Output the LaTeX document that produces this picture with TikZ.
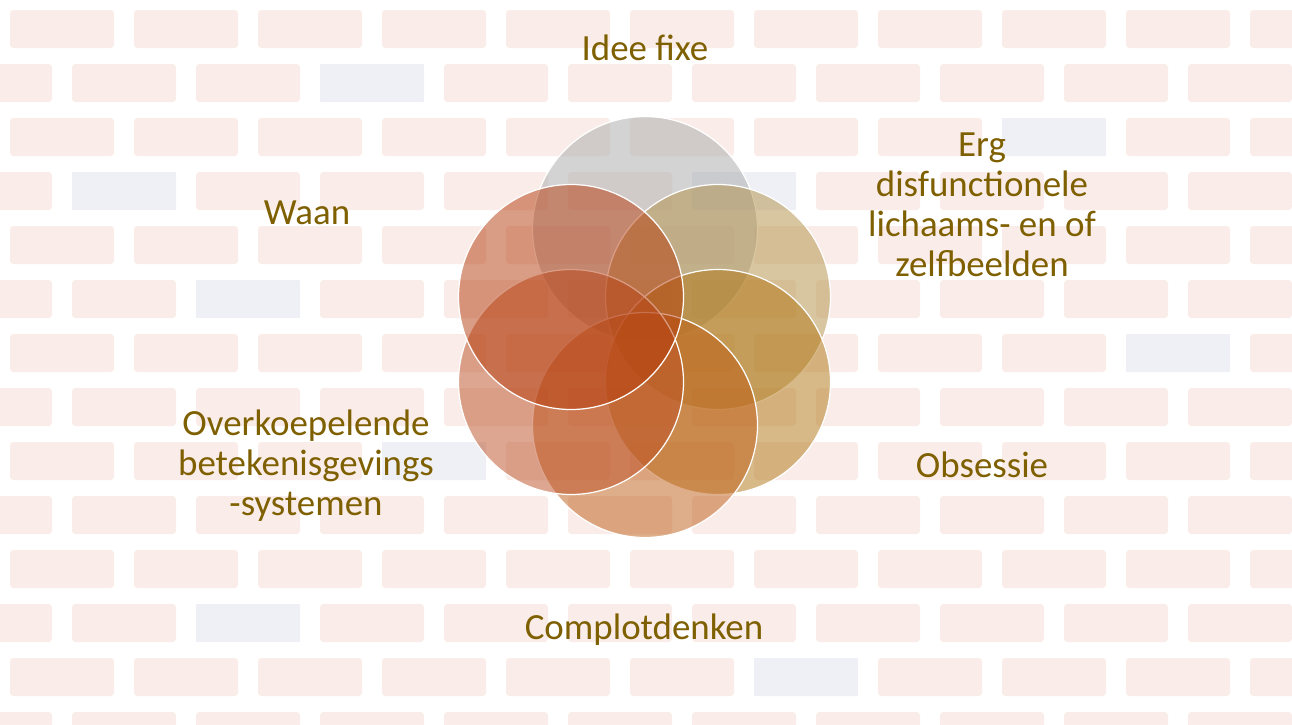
\documentclass[tikz,border=0pt]{standalone}
\usepackage{fontspec}
\setmainfont{Carlito}
\definecolor{txtgold}{HTML}{7F6000}
\definecolor{brickpink}{HTML}{F9E6E1}
\definecolor{brickblue}{HTML}{EEF0F5}
\definecolor{cgray}{HTML}{A8A8A8}
\definecolor{ctan}{HTML}{B28F45}
\definecolor{cgold}{HTML}{B07512}
\definecolor{corange}{HTML}{BF5C14}
\definecolor{crust}{HTML}{BC4E24}
\definecolor{cred}{HTML}{B53A0A}
\begin{document}
\begin{tikzpicture}[x=0.2mm, y=-0.2mm,
    brick/.style={fill=brickpink, rounded corners=2pt, opacity=0.7},
    venn/.style={circle, draw=white, line width=0.7pt, minimum size=45mm, inner sep=0pt, fill opacity=0.5},
    lbl/.style={text=txtgold, align=center, font=\fontsize{21}{22.8}\selectfont}]
    \useasboundingbox (0, 0) rectangle (1292, 724);
    \fill[white] (0, 0) rectangle (1292, 724);

    % faded brick wall
    \foreach \r in {0, ..., 13}{
        \pgfmathsetmacro\off{mod(\r, 2)*62}
        \foreach \c in {-1, ..., 11}
            \fill[brick] ({\c*124+\off+10}, {\r*54+10}) rectangle +(104, 38);
    }
    \foreach \r/\c in {1/2, 3/0, 3/5, 5/1, 6/9, 8/3, 9/10, 11/1, 12/6, 2/8}
        \fill[brickblue] ({\c*124+mod(\r, 2)*62+10}, {\r*54+10}) rectangle +(104, 38);

    % venn circles
    \node[venn, fill=cgray]   (c1) at (645, 229) {};
    \node[venn, fill=ctan]    (c2) at (718, 297) {};
    \node[venn, fill=cgold]   (c3) at (718, 382) {};
    \node[venn, fill=corange] (c4) at (645, 425) {};
    \node[venn, fill=crust]   (c5) at (571, 382) {};
    \node[venn, fill=cred]    (c6) at (571, 297) {};

    % labels
    \node[lbl] (idee) at (645, 48) {Idee fixe};
    \node[lbl] (erg) at (982, 205) {Erg\\disfunctionele\\lichaams- en of\\zelfbeelden};
    \node[lbl] (obsessie) at (982, 465) {Obsessie};
    \node[lbl] (complot) at (644, 630) {Complotdenken};
    \node[lbl] (overkoep) at (306, 466) {Overkoepelende\\betekenisgevings\\-systemen};
    \node[lbl] (waan) at (307, 213) {Waan};
\end{tikzpicture}
\end{document}
